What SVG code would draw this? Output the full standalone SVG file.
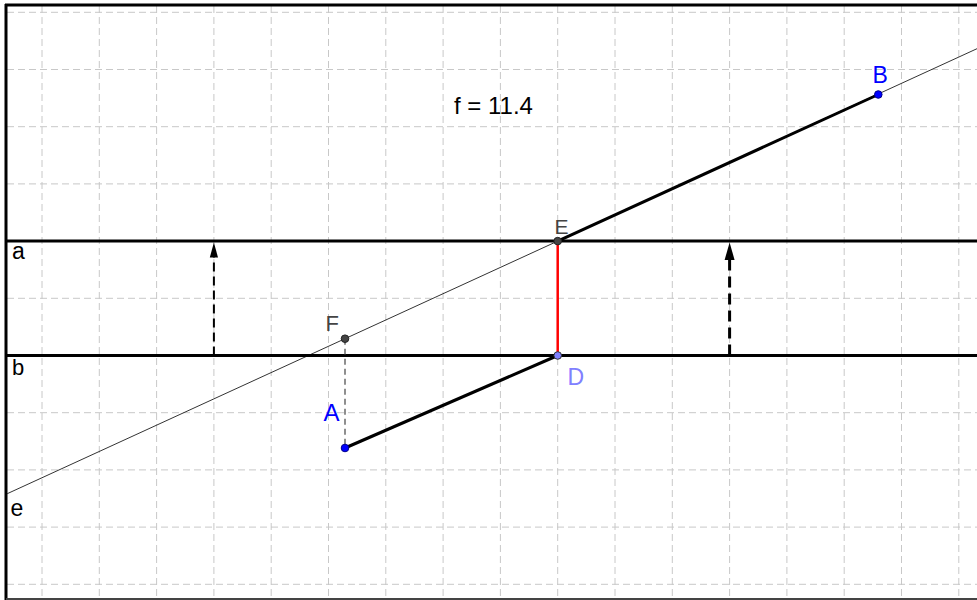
<svg xmlns="http://www.w3.org/2000/svg" width="977" height="600" viewBox="0 0 977 600">
<style>
.grid line{stroke:#c8c8c8;stroke-width:1;stroke-dasharray:7,4}
.thick{stroke:#000;stroke-width:3;fill:none}
.lbl{font-family:"Liberation Sans",Arial,sans-serif}
.gray{fill:#444}
.blue{fill:#0000ff}
</style>
<rect x="0" y="0" width="977" height="600" fill="#fff"/>
<g class="grid">
<line x1="42" y1="6" x2="42" y2="598"/>
<line x1="99.3" y1="6" x2="99.3" y2="598"/>
<line x1="156.6" y1="6" x2="156.6" y2="598"/>
<line x1="213.9" y1="6" x2="213.9" y2="598"/>
<line x1="271.2" y1="6" x2="271.2" y2="598"/>
<line x1="328.5" y1="6" x2="328.5" y2="598"/>
<line x1="385.8" y1="6" x2="385.8" y2="598"/>
<line x1="443.1" y1="6" x2="443.1" y2="598"/>
<line x1="500.4" y1="6" x2="500.4" y2="598"/>
<line x1="557.7" y1="6" x2="557.7" y2="598"/>
<line x1="615" y1="6" x2="615" y2="598"/>
<line x1="672.3" y1="6" x2="672.3" y2="598"/>
<line x1="729.6" y1="6" x2="729.6" y2="598"/>
<line x1="786.9" y1="6" x2="786.9" y2="598"/>
<line x1="844.2" y1="6" x2="844.2" y2="598"/>
<line x1="901.5" y1="6" x2="901.5" y2="598"/>
<line x1="958.8" y1="6" x2="958.8" y2="598"/>
<line x1="7" y1="12.3" x2="977" y2="12.3"/>
<line x1="7" y1="69.5" x2="977" y2="69.5"/>
<line x1="7" y1="126.7" x2="977" y2="126.7"/>
<line x1="7" y1="183.9" x2="977" y2="183.9"/>
<line x1="7" y1="241.1" x2="977" y2="241.1"/>
<line x1="7" y1="298.3" x2="977" y2="298.3"/>
<line x1="7" y1="355.5" x2="977" y2="355.5"/>
<line x1="7" y1="412.7" x2="977" y2="412.7"/>
<line x1="7" y1="469.9" x2="977" y2="469.9"/>
<line x1="7" y1="527.1" x2="977" y2="527.1"/>
<line x1="7" y1="584.3" x2="977" y2="584.3"/>
</g>
<g id="frame">
<line x1="5" y1="5" x2="977" y2="5" stroke="#000" stroke-width="3"/>
<line x1="6" y1="4" x2="6" y2="600" stroke="#000" stroke-width="3"/>
<line x1="6" y1="599" x2="977" y2="599" stroke="#444" stroke-width="2"/>
</g>
<g id="connectors">
<line id="line-e" x1="7" y1="493.8" x2="977" y2="48.7" stroke="#333" stroke-width="1"/>
<line id="line-a" class="thick" x1="7" y1="241.1" x2="977" y2="241.1"/>
<line id="line-b" class="thick" x1="7" y1="355.5" x2="977" y2="355.5"/>
<line id="seg-EB" class="thick" x1="557.7" y1="241.1" x2="878.3" y2="94.5"/>
<line id="seg-AD" class="thick" x1="345" y1="448" x2="557.7" y2="355.5"/>
<line id="seg-ED" x1="557.7" y1="241.1" x2="557.7" y2="355.5" stroke="#ff0000" stroke-width="2.5"/>
<line id="seg-FA" x1="345" y1="338.7" x2="345" y2="448" stroke="#444" stroke-width="1.2" stroke-dasharray="6,4"/>
<g id="arrow-left">
<line x1="213.9" y1="355.5" x2="213.9" y2="256" stroke="#000" stroke-width="2" stroke-dasharray="9,5"/>
<polygon points="213.9,242.5 218,257.5 209.8,257.5" fill="#000"/>
</g>
<g id="arrow-right">
<line x1="729.6" y1="355.5" x2="729.6" y2="258" stroke="#000" stroke-width="3" stroke-dasharray="11,6"/>
<polygon points="729.6,242.5 734.6,260 724.6,260" fill="#000"/>
</g>
</g>
<g id="node-E"><circle cx="557.7" cy="241.1" r="3.8" fill="#444" stroke="#222" stroke-width="1"/><text class="lbl gray" x="554.5" y="234" font-size="21">E</text></g>
<g id="node-D"><circle cx="557.7" cy="355.5" r="3.8" fill="#8080ff" stroke="#333" stroke-width="1"/><text class="lbl" fill="#8080ff" x="567.5" y="385" font-size="23">D</text></g>
<g id="node-F"><circle cx="345" cy="338.7" r="3.8" fill="#444" stroke="#222" stroke-width="1"/><text class="lbl gray" x="325.5" y="331" font-size="22">F</text></g>
<g id="node-A"><circle cx="345" cy="448" r="3.8" fill="#0000ff" stroke="#00008b" stroke-width="1"/><text class="lbl blue" x="323.5" y="421" font-size="24">A</text></g>
<g id="node-B"><circle cx="878.3" cy="94.5" r="3.8" fill="#0000ff" stroke="#00008b" stroke-width="1"/><text class="lbl blue" x="872.5" y="83" font-size="23">B</text></g>
<g id="labels">
<text class="lbl" x="12" y="259" font-size="23" fill="#000">a</text>
<text class="lbl" x="12" y="374.5" font-size="22" fill="#000">b</text>
<text class="lbl" x="10.5" y="516" font-size="23" fill="#000">e</text>
<text class="lbl" x="454" y="113.5" font-size="24" fill="#000">f = 11.4</text>
</g>
</svg>
